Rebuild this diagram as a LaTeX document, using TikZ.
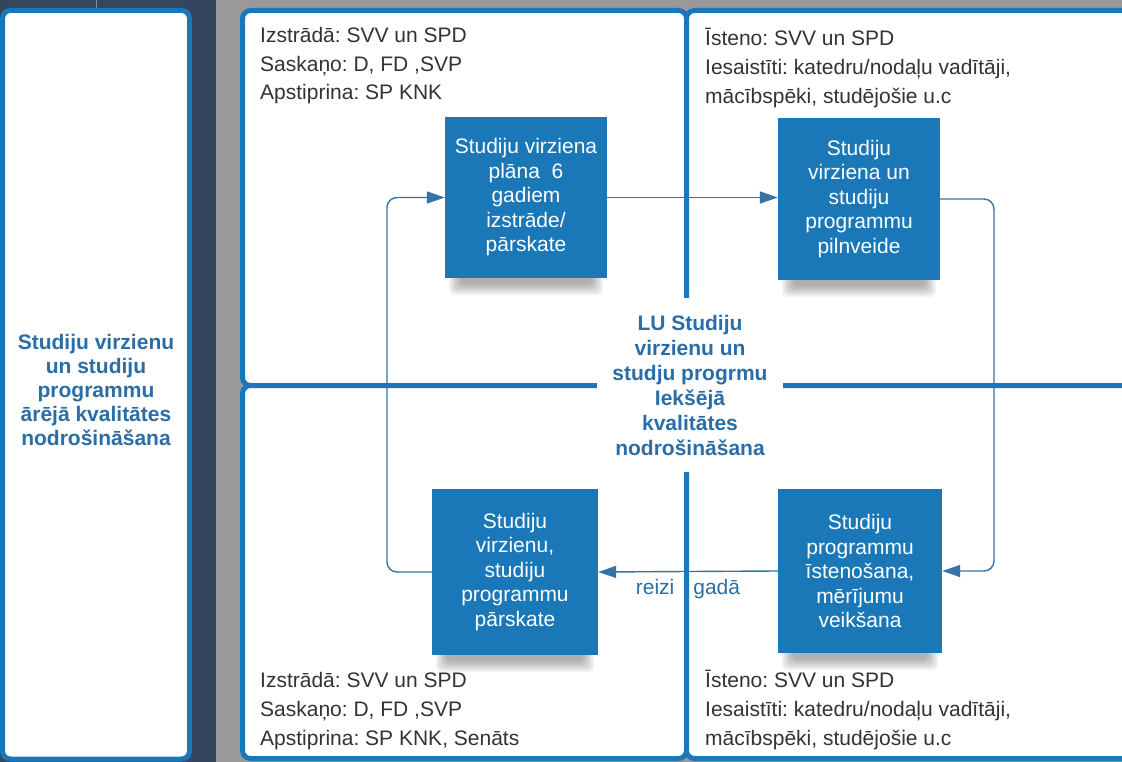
\documentclass[tikz,border=0pt]{standalone}
\usepackage{fontspec}
\setmainfont{Liberation Sans}
\usetikzlibrary{arrows.meta,calc}
\definecolor{navy}{HTML}{34465E}
\definecolor{greybg}{HTML}{9A9899}
\definecolor{lublue}{HTML}{1B78B8}
\definecolor{txtblue}{HTML}{2A6EA8}
\definecolor{conncol}{HTML}{3474A8}
\definecolor{darktxt}{HTML}{333333}
\definecolor{slateln}{HTML}{7F8DA0}
\pgfdeclarelayer{panels}
\pgfdeclarelayer{shadowl}
\pgfsetlayers{panels,shadowl,main}
\frenchspacing
\tikzset{
  panel/.style={fill=white, draw=lublue, line width=5pt, rounded corners=8pt},
  stepbox/.style={fill=lublue, text=white, inner sep=0pt, align=center,
    font=\fontsize{21}{24.5}\selectfont},
  note/.style={text=darktxt, align=left, inner sep=0pt, anchor=base west,
    font=\fontsize{21}{28.8}\selectfont},
  conn/.style={draw=conncol, line width=1.4pt, rounded corners=10pt},
  arr/.style={-{Triangle[length=18pt,width=12pt]}},
  bluelbl/.style={text=txtblue, inner sep=0pt, align=center}
}
\begin{document}
\frenchspacing
\begin{tikzpicture}[x=1pt,y=-1pt]
\useasboundingbox (0,0) rectangle (1122,762);
\clip (0,0) rectangle (1122,762);
\begin{pgfonlayer}{panels}
  \fill[navy] (0,0) rectangle (216,762);
  \fill[greybg] (216,0) rectangle (1122,762);
  \node[panel, minimum width=187pt, minimum height=748.5pt, inner sep=0pt] (lp) at (96,384.75) {};
  \coordinate (lptop) at (96,-2);
  \draw[slateln, line width=0.8pt] (lp.north) -- (lptop);
  \draw[panel] (242.5,10.5) rectangle (686.5,385.5);
  \draw[panel] (686.5,10.5) rectangle (1140,385.5);
  \draw[panel] (242.5,385.5) rectangle (686.5,758.5);
  \draw[panel] (686.5,385.5) rectangle (1140,758.5);
\end{pgfonlayer}

% left panel text
\node[bluelbl, font=\bfseries\fontsize{21}{24}\selectfont] (lpt) at (96,390)
  {Studiju virzienu\\un studiju\\programmu\\ārējā kvalitātes\\nodrošināšana};

% quadrant notes (anchored at the baseline of their last line)
\node[note] (tl) at (260,100) {Izstrādā: SVV un SPD\\Saskaņo: D, FD ,SVP\\Apstiprina: SP KNK};
\node[note] (tr) at (705,103.5) {Īsteno: SVV un SPD\\Iesaistīti: katedru/nodaļu vadītāji,\\mācībspēki, studējošie u.c};
\node[note] (bl) at (260,745.5) {Izstrādā: SVV un SPD\\Saskaņo: D, FD ,SVP\\Apstiprina: SP KNK, Senāts};
\node[note] (br) at (705,745.5) {Īsteno: SVV un SPD\\Iesaistīti: katedru/nodaļu vadītāji,\\mācībspēki, studējošie u.c};

% process boxes
\node[stepbox, minimum width=162pt, minimum height=161pt] (b1) at (526,197.5)
  {Studiju virziena\\plāna\ \ 6\\gadiem\\izstrāde/\\pārskate};
\node[stepbox, minimum width=162pt, minimum height=162pt] (b2) at (859,199)
  {Studiju\\virziena un\\studiju\\programmu\\pilnveide};
\node[stepbox, minimum width=166pt, minimum height=166pt] (b3) at (515,572)
  {Studiju\\virzienu,\\studiju\\programmu\\pārskate};
\node[stepbox, minimum width=164pt, minimum height=164pt] (b4) at (860,571)
  {Studiju\\programmu\\īstenošana,\\mērījumu\\veikšana};

% soft shadows
\begin{pgfonlayer}{shadowl}
\foreach \bx in {b1,b2,b3,b4}{
  \foreach \k in {0,...,7}{
    \fill[black, opacity=0.045, rounded corners=5pt]
      ($(\bx.south west)+(4+1.6*\k,-20)$) rectangle ($(\bx.south east)+(-4-1.6*\k,17-1.6*\k)$);
  }
}
\end{pgfonlayer}

% centre label
\node[bluelbl, fill=white, minimum width=186pt, minimum height=174pt,
  font=\bfseries\fontsize{21}{25}\selectfont] (ctr) at (690,385)
  {LU Studiju\\virzienu un\\studju progrmu\\Iekšējā\\kvalitātes\\nodrošināšana};

% connectors
\coordinate (c1) at (994,199);
\coordinate (c2) at (387,572);
\draw[conn,arr] (b1.east) -- (b1.east -| b2.west);
\draw[conn,arr] (b2.east) -- (c1) |- (b4.east);
\draw[conn,arr] (b4.west) -- (b3.east);
\draw[conn,arr] (b3.west) -- (c2) |- (b1.west);

\node[bluelbl, anchor=base, font=\fontsize{21}{25}\selectfont] (lbl) at (688,594)
  {reizi\hspace{19pt}gadā};
\end{tikzpicture}
\end{document}
